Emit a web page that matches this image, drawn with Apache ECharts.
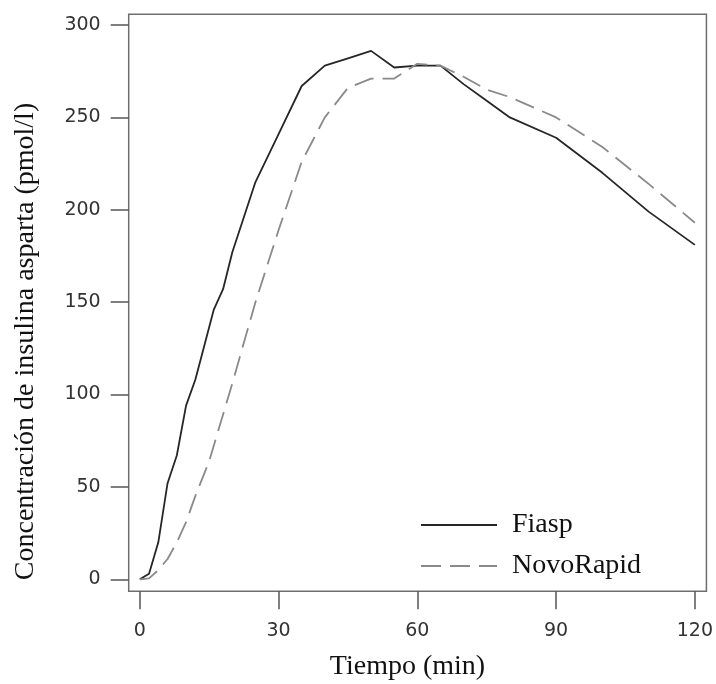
<!DOCTYPE html>
<html>
<head>
<meta charset="utf-8">
<script src="https://cdn.jsdelivr.net/npm/echarts@6/dist/echarts.min.js"></script>
<style>html,body{margin:0;padding:0;background:#fff}#c{width:716px;height:684px}</style>
</head>
<body>
<div id="c"></div>
<script>
var fiaspTime = [0, 2, 4, 6, 8, 10, 12, 14, 16, 18, 20, 25, 30, 35, 40, 45, 50, 55, 60, 65, 70, 75, 80, 90, 100, 110, 120];
var fiaspConc = [0, 3, 20, 52, 67, 94, 108, 127, 146, 157, 177, 215, 241, 267, 278, 282, 286, 277, 278, 278, 268, 259, 250, 239, 220, 199, 181];
var novoTime = [0, 2, 4, 6, 8, 10, 12, 15, 20, 25, 30, 35, 40, 45, 50, 55, 60, 65, 70, 75, 80, 90, 100, 110, 120];
var novoConc = [0, 0.5, 5, 11, 20, 31, 45, 64, 106, 150, 189, 226, 250, 266, 271, 271, 279, 278, 272, 265, 261, 250, 234, 214, 193];
var xTicks = [0, 30, 60, 90, 120];
var yTicks = [0, 50, 100, 150, 200, 250, 300];
var seriesNames = ['Fiasp', 'NovoRapid'];
var xTitle = 'Tiempo (min)';
var yTitle = 'Concentración de insulina asparta (pmol/l)';

function pairs(t, v) { return t.map(function (x, i) { return [x, v[i]]; }); }

var chart = echarts.init(document.getElementById('c'), null, {renderer: 'canvas'});
var serif = '"Liberation Serif", "DejaVu Serif", serif';
var sans = '"DejaVu Sans", sans-serif';
chart.setOption({
  animation: false,
  backgroundColor: '#fff',
  grid: {left: 128.7, top: 14.3, right: 9.3, bottom: 92.7, show: true, borderColor: '#6e6e6e', borderWidth: 1.5, backgroundColor: 'transparent'},
  xAxis: {
    type: 'value', min: -2.4, max: 122.5,
    axisLine: {show: false, onZero: false},
    splitLine: {show: false},
    axisTick: {show: true, inside: false, length: 18, customValues: xTicks, lineStyle: {color: '#555', width: 1.5}},
    axisLabel: {customValues: xTicks, margin: 30, fontFamily: sans, fontSize: 19, color: '#333'}
  },
  yAxis: {
    type: 'value', min: -6.5, max: 305.8,
    axisLine: {show: false, onZero: false},
    splitLine: {show: false},
    axisTick: {show: true, inside: false, length: 18, customValues: yTicks, lineStyle: {color: '#555', width: 1.5}},
    axisLabel: {customValues: yTicks, margin: 28, fontFamily: sans, fontSize: 19, color: '#333'}
  },
  legend: {
    orient: 'vertical', left: 415, top: 506, itemWidth: 76, itemHeight: 14, itemGap: 13,
    itemStyle: {opacity: 0},
    textStyle: {fontFamily: serif, fontSize: 28, color: '#111', padding: [0, 0, 0, 10]},
    data: seriesNames
  },
  graphic: [
    {type: 'text', x: 407.5, y: 667, style: {text: xTitle, font: '28px ' + serif, fill: '#111', align: 'center', verticalAlign: 'middle'}},
    {type: 'text', x: 26, y: 341.5, rotation: Math.PI / 2, style: {text: yTitle, font: '28px ' + serif, fill: '#111', align: 'center', verticalAlign: 'middle'}}
  ],
  series: [
    {name: seriesNames[0], type: 'line', data: pairs(fiaspTime, fiaspConc), symbol: 'none', showSymbol: false, smooth: false,
     lineStyle: {color: '#262626', width: 1.8}, itemStyle: {color: '#262626'}},
    {name: seriesNames[1], type: 'line', data: pairs(novoTime, novoConc), symbol: 'none', showSymbol: false, smooth: false,
     lineStyle: {color: '#8a8a8a', width: 1.8, type: [20, 9]}, itemStyle: {color: '#8a8a8a'}}
  ]
});
</script>
</body>
</html>
